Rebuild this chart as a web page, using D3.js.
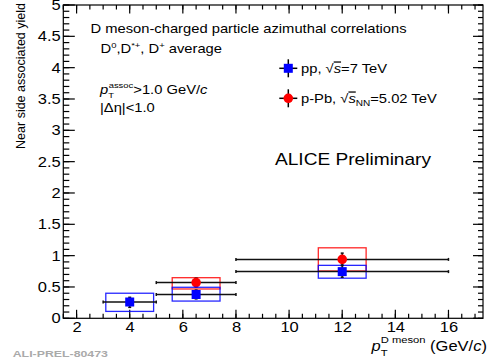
<!DOCTYPE html>
<html><head><meta charset="utf-8">
<script src="https://cdn.jsdelivr.net/npm/d3@7"></script>
<style>body{margin:0;background:#fff;} text{font-family:"Liberation Sans",Arial,sans-serif;}</style>
</head><body>
<svg id="c" width="489" height="362"></svg>
<script>
// pp, sqrt(s)=7 TeV
const ppX = [4, 6.5, 12];
const ppY = [0.26, 0.38, 0.745];
const ppXlo = [3, 5, 8];
const ppXhi = [5, 8, 16];
const ppStatLo = [0.175, 0.31, 0.655];
const ppStatHi = [0.335, 0.45, 0.85];
const ppSysLo = [0.11, 0.275, 0.64];
const ppSysHi = [0.40, 0.495, 0.845];
// p-Pb, sqrt(sNN)=5.02 TeV
const pbX = [6.5, 12];
const pbY = [0.57, 0.94];
const pbXlo = [5, 8];
const pbXhi = [8, 16];
const pbStatLo = [0.50, 0.84];
const pbStatHi = [0.64, 1.04];
const pbSysLo = [0.468, 0.755];
const pbSysHi = [0.648, 1.125];
const sysHalfWidth = 0.9;
const xTicks = [2, 4, 6, 8, 10, 12, 14, 16];
const yTicks = [0, 0.5, 1, 1.5, 2, 2.5, 3, 3.5, 4, 4.5, 5];

const SX = 1.18; // horizontal stretch of the reference's typeface
const svg = d3.select("#c");
const L = 63.3, R = 483, T = 5, B = 318.3;
const x = d3.scaleLinear().domain([1.5, 17.3]).range([L, R]);
const y = d3.scaleLinear().domain([0, 5]).range([B, T]);

function txt(px, py, size, sx) {
  return svg.append("text").attr("transform", `translate(${px},${py}) scale(${sx || SX},1)`)
    .attr("font-size", size);
}

svg.append("rect").attr("x", L).attr("y", T).attr("width", R - L).attr("height", B - T)
  .attr("fill", "none").attr("stroke", "#000").attr("stroke-width", 1.2);

const xMinor = d3.range(1.5, 17.3, 0.5);
const yMinor = d3.range(0, 5.001, 0.1);
function ticksX(vals, len, top) {
  svg.append("g").selectAll("line").data(vals).join("line")
    .attr("x1", d => x(d)).attr("x2", d => x(d))
    .attr("y1", top ? T : B).attr("y2", top ? T + len : B - len)
    .attr("stroke", "#000").attr("stroke-width", 1.2);
}
function ticksY(vals, len, right) {
  svg.append("g").selectAll("line").data(vals).join("line")
    .attr("y1", d => y(d)).attr("y2", d => y(d))
    .attr("x1", right ? R : L).attr("x2", right ? R - len : L + len)
    .attr("stroke", "#000").attr("stroke-width", 1.2);
}
ticksX(xMinor, 4.5, false); ticksX(xTicks, 8.5, false);
ticksX(xMinor, 4.5, true); ticksX(xTicks, 8.5, true);
ticksY(yMinor, 6, false); ticksY(yTicks, 11.5, false);
ticksY(yMinor, 5, true); ticksY(yTicks, 10, true);

const ax = svg.append("g").attr("transform", `translate(0,${B})`)
  .call(d3.axisBottom(x).tickValues(xTicks).tickSize(0).tickPadding(4).tickFormat(d3.format("d")));
ax.select(".domain").remove();
ax.selectAll("text").attr("font-size", 14).attr("font-family", "Liberation Sans, Arial, sans-serif")
  .attr("fill", "#000").attr("transform", `scale(${SX},1)`);
const ay = svg.append("g").attr("transform", `translate(${L},0)`)
  .call(d3.axisLeft(y).tickValues(yTicks).tickSize(0).tickPadding(2.2).tickFormat(d => d3.format("")(d)));
ay.select(".domain").remove();
ay.selectAll("text").attr("font-size", 14).attr("font-family", "Liberation Sans, Arial, sans-serif")
  .attr("fill", "#000").attr("transform", `scale(${SX},1)`);

function drawSeries(X, Y, Xlo, Xhi, SLo, SHi, SysLo, SysHi, color, marker) {
  const g = svg.append("g");
  X.forEach((xv, i) => {
    g.append("rect").attr("x", x(xv - sysHalfWidth)).attr("y", y(SysHi[i]))
      .attr("width", x(xv + sysHalfWidth) - x(xv - sysHalfWidth)).attr("height", y(SysLo[i]) - y(SysHi[i]))
      .attr("fill", "none").attr("stroke", color).attr("stroke-width", 1.3).attr("stroke-opacity", 0.85);
  });
  X.forEach((xv, i) => {
    g.append("line").attr("x1", x(Xlo[i])).attr("x2", x(Xhi[i])).attr("y1", y(Y[i])).attr("y2", y(Y[i]))
      .attr("stroke", "#111").attr("stroke-width", 1.5);
    [Xlo[i], Xhi[i]].forEach(e => g.append("line").attr("x1", x(e)).attr("x2", x(e))
      .attr("y1", y(Y[i]) - 1.5).attr("y2", y(Y[i]) + 1.5).attr("stroke", "#111").attr("stroke-width", 1.5));
    g.append("line").attr("x1", x(xv)).attr("x2", x(xv)).attr("y1", y(SLo[i])).attr("y2", y(SHi[i]))
      .attr("stroke", "#111").attr("stroke-width", 1.5);
    [SLo[i], SHi[i]].forEach(e => g.append("line").attr("x1", x(xv) - 1.5).attr("x2", x(xv) + 1.5)
      .attr("y1", y(e)).attr("y2", y(e)).attr("stroke", "#111").attr("stroke-width", 1.5));
    if (marker === "square") {
      g.append("rect").attr("x", x(xv) - 4.5).attr("y", y(Y[i]) - 4.5).attr("width", 9).attr("height", 9).attr("fill", color);
    } else {
      g.append("circle").attr("cx", x(xv)).attr("cy", y(Y[i])).attr("r", 4.8).attr("fill", color);
    }
  });
}
drawSeries(pbX, pbY, pbXlo, pbXhi, pbStatLo, pbStatHi, pbSysLo, pbSysHi, "#ff0000", "circle");
drawSeries(ppX, ppY, ppXlo, ppXhi, ppStatLo, ppStatHi, ppSysLo, ppSysHi, "#0000ff", "square");

function legendMarker(cx, cy, color, marker) {
  svg.append("line").attr("x1", cx - 9).attr("x2", cx + 9).attr("y1", cy).attr("y2", cy).attr("stroke", "#000").attr("stroke-width", 1.5);
  svg.append("line").attr("x1", cx).attr("x2", cx).attr("y1", cy - 9).attr("y2", cy + 9).attr("stroke", "#000").attr("stroke-width", 1.5);
  if (marker === "square") svg.append("rect").attr("x", cx - 4.5).attr("y", cy - 4.5).attr("width", 9).attr("height", 9).attr("fill", color);
  else svg.append("circle").attr("cx", cx).attr("cy", cy).attr("r", 4.8).attr("fill", color);
}
legendMarker(288.3, 68.3, "#0000ff", "square");
legendMarker(288.3, 98.3, "#ff0000", "circle");
const t1 = txt(301, 73.3, 12.5);
t1.append("tspan").text("pp, ");
t1.append("tspan").text("\u221A");
t1.append("tspan").attr("font-style", "italic").attr("text-decoration", "overline").text("s");
t1.append("tspan").text("=7 TeV");
const t2 = txt(301, 103.3, 12.5);
t2.append("tspan").text("p-Pb, ");
t2.append("tspan").text("\u221A");
t2.append("tspan").attr("font-style", "italic").attr("text-decoration", "overline").text("s");
t2.append("tspan").attr("font-size", 8.5).attr("dy", 3).text("NN");
t2.append("tspan").attr("dy", -3).text("=5.02 TeV");

txt(90.5, 32.8, 12.5).text("D meson-charged particle azimuthal correlations");
const t3 = txt(100.5, 53.3, 12.5);
t3.append("tspan").text("D");
t3.append("tspan").attr("font-size", 8).attr("dy", -5).text("0");
t3.append("tspan").attr("dy", 5).text(",D");
t3.append("tspan").attr("font-size", 8).attr("dy", -5).text("*+");
t3.append("tspan").attr("dy", 5).text(", D");
t3.append("tspan").attr("font-size", 8).attr("dy", -5).text("+");
t3.append("tspan").attr("dy", 5).text(" average");
const t4 = txt(100, 93.8, 12.5);
t4.append("tspan").attr("font-style", "italic").text("p");
t4.append("tspan").attr("font-size", 8).attr("dy", 4).text("T");
t4.append("tspan").attr("font-size", 8).attr("dx", -4.5).attr("dy", -10).text("assoc");
t4.append("tspan").attr("dy", 6).text(">1.0 GeV/");
t4.append("tspan").attr("font-style", "italic").text("c");
txt(100, 111.5, 12.5).text("|\u0394\u03B7|<1.0");
txt(275, 165, 16.2).text("ALICE Preliminary");

svg.append("text").attr("transform", "translate(25,3) rotate(-90)").attr("text-anchor", "end")
  .attr("font-size", 12.5).text("Near side associated yield");
const xt = txt(371.5, 351, 14);
xt.append("tspan").attr("font-style", "italic").text("p");
xt.append("tspan").attr("font-size", 9.5).attr("dy", 4.5).text("T");
xt.append("tspan").attr("font-size", 9.5).attr("dx", -5.8).attr("dy", -13).text("D meson");
xt.append("tspan").attr("dy", 8.5).text(" (GeV/");
xt.append("tspan").attr("font-style", "italic").text("c");
xt.append("tspan").text(")");

txt(12.7, 356.7, 9.5, 1.3).attr("fill", "#aaa")
  .attr("font-family", "Liberation Mono, monospace").attr("font-weight", "bold").text("ALI-PREL-80473");
</script>
</body></html>
